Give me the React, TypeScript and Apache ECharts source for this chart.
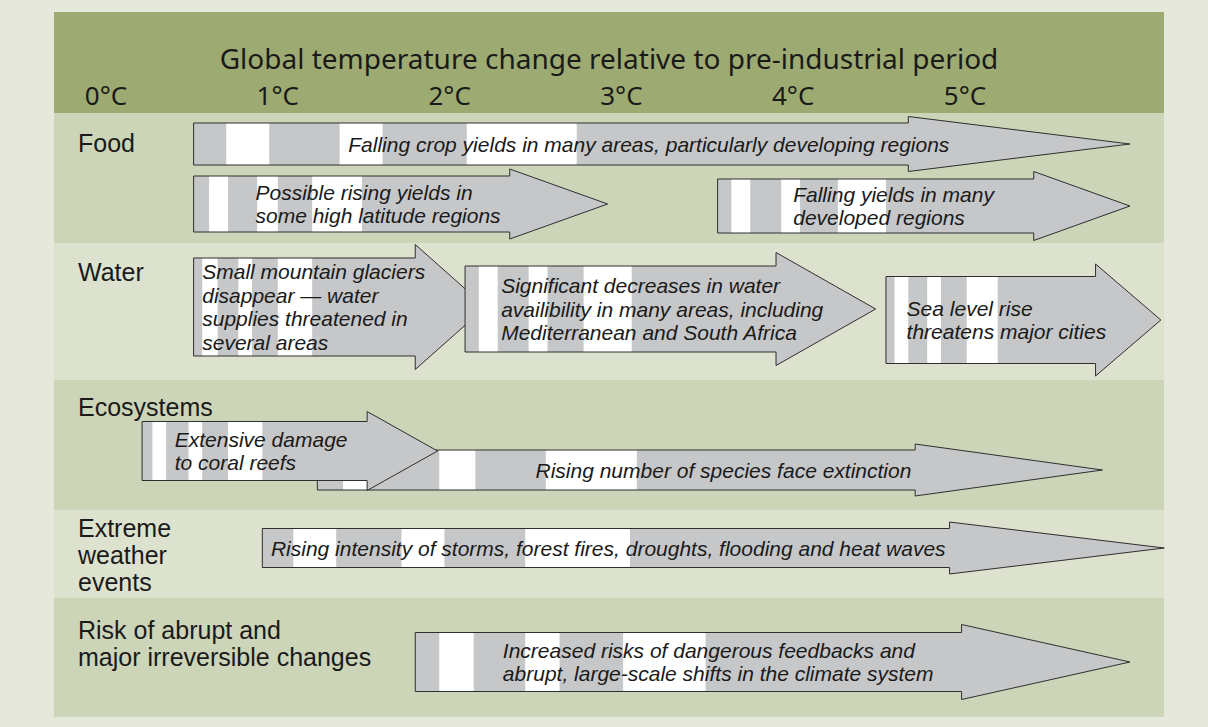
import React, { useEffect, useRef } from "react";
import * as echarts from "echarts";

// ---------- data ----------
const title = "Global temperature change relative to pre-industrial period";
const tickValues = [0, 1, 2, 3, 4, 5];
const tickLabels = ["0°C", "1°C", "2°C", "3°C", "4°C", "5°C"];
const categories = [
  "Food",
  "Water",
  "Ecosystems",
  "Extreme\nweather\nevents",
  "Risk of abrupt and\nmajor irreversible changes",
];

// arrows (temperatures in °C)
const arrowCategory = [0, 0, 0, 1, 1, 1, 2, 2, 3, 4];
const arrowTexts = [
  "Falling crop yields in many areas, particularly developing regions",
  "Possible rising yields in\nsome high latitude regions",
  "Falling yields in many\ndeveloped regions",
  "Small mountain glaciers\ndisappear \u2014 water\nsupplies threatened in\nseveral areas",
  "Significant decreases in water\navailibility in many areas, including\nMediterranean and South Africa",
  "Sea level rise\nthreatens major cities",
  "Rising number of species face extinction",
  "Extensive damage\nto coral reefs",
  "Rising intensity of storms, forest fires, droughts, flooding and heat waves",
  "Increased risks of dangerous feedbacks and\nabrupt, large-scale shifts in the climate system",
];
const arrowStart = [0.51, 0.51, 3.56, 0.51, 2.09, 4.54, 1.23, 0.21, 0.91, 1.8];
const arrowHeadStart = [4.67, 2.35, 5.4, 1.8, 3.9, 5.76, 4.71, 1.52, 4.91, 4.98];
const arrowEnd = [5.96, 2.92, 5.96, 2.21, 4.48, 6.14, 5.8, 1.93, 6.16, 5.96];
const arrowStripes = [
  [0.7, 0.95, 1.36, 1.61, 2.1, 2.74],
  [0.6, 0.71, 0.88, 1.0, 1.2, 1.49],
  [3.64, 3.75, 3.93, 4.04, 4.26, 4.54],
  [0.56, 0.65, 0.77, 0.85, 1.0, 1.2],
  [2.17, 2.28, 2.46, 2.57, 2.78, 3.06],
  [4.59, 4.67, 4.78, 4.86, 5.01, 5.19],
  [1.38, 1.52, 1.94, 2.15, 2.56, 3.09],
  [0.27, 0.35, 0.48, 0.56, 0.71, 0.91],
  [1.09, 1.34, 1.72, 1.97, 2.44, 3.05],
  [1.94, 2.14, 2.44, 2.64, 3.01, 3.49],
];

// ---------- layout (positions / sizes / styles) ----------
const ZERO_PX = 106;
const DEG_PX = 171.8;
const PANEL_LEFT = 54;
const PANEL_RIGHT = 1164;
const PANEL_TOP = 12;
const PANEL_BOTTOM = 717;
const PANEL_H = PANEL_BOTTOM - PANEL_TOP;
const X_MIN = (PANEL_LEFT - ZERO_PX) / DEG_PX;
const X_MAX = (PANEL_RIGHT - ZERO_PX) / DEG_PX;

const bandEdges = [0, 101, 231, 368, 498, 586, PANEL_H];
const bandColors = ["#9dab72", "#cdd5b8", "#dde2ce", "#cdd5b8", "#dde2ce", "#cdd5b8"];
const labelY = [131, 260, 395, 543, 631.5];
const LABEL_X = 78;
const TITLE_Y = 46;
const TICK_Y = 83;

const arrowCY = [132, 192, 194, 295, 297, 308, 458, 439, 536, 650];
const arrowBodyH = [42, 56, 54, 98, 86, 87, 40, 59, 39, 59];
const arrowHeadH = [55, 70, 69, 125, 113, 112, 52, 79, 52, 75];
const arrowTextX = [1.41, 0.87, 4.0, 0.56, 2.3, 4.66, 2.5, 0.4, 0.96, 2.31];

const FONT = '"Noto Sans", "Open Sans", sans-serif';
const FONT_BODY = '"Liberation Sans", Arial, sans-serif';
const TEXT_COLOR = "#1a1a1a";
const ARROW_FILL = "#c6c7c9";
const ARROW_STROKE = "#2e2e2e";

function buildOption() {
  const bandData = bandColors.map((_, i) => [i, X_MIN, bandEdges[i]]);
  const arrowData = arrowStart.map((s, i) => [i, s, arrowEnd[i], arrowCY[i]]);

  const renderBand = (params: any, api: any) => {
    const i = api.value(0) as number;
    const cs = params.coordSys;
    const y0 = api.coord([X_MIN, bandEdges[i]])[1];
    const y1 = api.coord([X_MIN, bandEdges[i + 1]])[1];
    const children: any[] = [
      {
        type: "rect",
        shape: { x: cs.x, y: y0, width: cs.width, height: y1 - y0 },
        style: { fill: bandColors[i] },
      },
    ];
    if (i === 0) {
      const centerX = cs.x + cs.width / 2;
      children.push({
        type: "text",
        x: centerX,
        y: api.coord([X_MIN, TITLE_Y])[1],
        style: {
          text: title,
          font: `28px ${FONT}`,
          fill: TEXT_COLOR,
          align: "center",
          verticalAlign: "middle",
        },
      });
      tickValues.forEach((t, k) => {
        const p = api.coord([t, TICK_Y]);
        children.push({
          type: "text",
          x: p[0],
          y: p[1],
          style: {
            text: tickLabels[k],
            font: `26px ${FONT}`,
            fill: TEXT_COLOR,
            align: "center",
            verticalAlign: "middle",
          },
        });
      });
    } else {
      children.push({
        type: "text",
        x: LABEL_X,
        y: api.coord([X_MIN, labelY[i - 1]])[1],
        style: {
          text: categories[i - 1],
          font: `25px ${FONT_BODY}`,
          fill: TEXT_COLOR,
          align: "left",
          verticalAlign: "middle",
          lineHeight: 27,
        },
      });
    }
    return { type: "group", children };
  };

  const renderArrow = (params: any, api: any) => {
    const i = api.value(0) as number;
    const cy = api.coord([0, arrowCY[i]])[1];
    const yTop = api.coord([0, arrowCY[i] - arrowBodyH[i] / 2])[1];
    const yBot = api.coord([0, arrowCY[i] + arrowBodyH[i] / 2])[1];
    const hTop = api.coord([0, arrowCY[i] - arrowHeadH[i] / 2])[1];
    const hBot = api.coord([0, arrowCY[i] + arrowHeadH[i] / 2])[1];
    const x0 = api.coord([arrowStart[i], 0])[0];
    const xb = api.coord([arrowHeadStart[i], 0])[0];
    const xt = api.coord([arrowEnd[i], 0])[0];
    const pts = [
      [x0, yTop],
      [xb, yTop],
      [xb, hTop],
      [xt, cy],
      [xb, hBot],
      [xb, yBot],
      [x0, yBot],
    ];
    const children: any[] = [
      { type: "polygon", shape: { points: pts }, style: { fill: ARROW_FILL } },
    ];
    const st = arrowStripes[i];
    for (let k = 0; k < st.length; k += 2) {
      const a = api.coord([st[k], 0])[0];
      const b = api.coord([st[k + 1], 0])[0];
      children.push({
        type: "rect",
        shape: { x: a, y: yTop, width: b - a, height: yBot - yTop },
        style: { fill: "#ffffff" },
      });
    }
    children.push({
      type: "polygon",
      shape: { points: pts },
      style: { fill: "none", stroke: ARROW_STROKE, lineWidth: 1 },
    });
    children.push({
      type: "text",
      x: api.coord([arrowTextX[i], 0])[0],
      y: cy,
      style: {
        text: arrowTexts[i],
        font: `italic 21px ${FONT_BODY}`,
        fill: TEXT_COLOR,
        align: "left",
        verticalAlign: "middle",
        lineHeight: 23.5,
      },
    });
    return { type: "group", children };
  };

  return {
    animation: false,
    backgroundColor: "#e5e8da",
    grid: {
      left: PANEL_LEFT,
      top: PANEL_TOP,
      width: PANEL_RIGHT - PANEL_LEFT,
      height: PANEL_H,
      containLabel: false,
    },
    xAxis: { type: "value", min: X_MIN, max: X_MAX, show: false },
    yAxis: { type: "value", min: 0, max: PANEL_H, inverse: true, show: false },
    series: [
      {
        type: "custom",
        name: "bands",
        coordinateSystem: "cartesian2d",
        clip: false,
        silent: true,
        encode: { x: 1, y: 2 },
        data: bandData,
        renderItem: renderBand,
        z: 1,
      },
      {
        type: "custom",
        name: "impacts",
        coordinateSystem: "cartesian2d",
        clip: false,
        silent: true,
        encode: { x: [1, 2], y: 3 },
        data: arrowData,
        renderItem: renderArrow,
        z: 2,
      },
    ],
  };
}

export default function App() {
  const ref = useRef<HTMLDivElement>(null);
  useEffect(() => {
    if (!ref.current) return;
    const chart = echarts.init(ref.current, null, { renderer: "svg" });
    chart.setOption(buildOption() as any);
    return () => chart.dispose();
  }, []);
  return (
    <div
      ref={ref}
      style={{ position: "fixed", left: 0, top: 0, width: 1208, height: 727 }}
    />
  );
}
